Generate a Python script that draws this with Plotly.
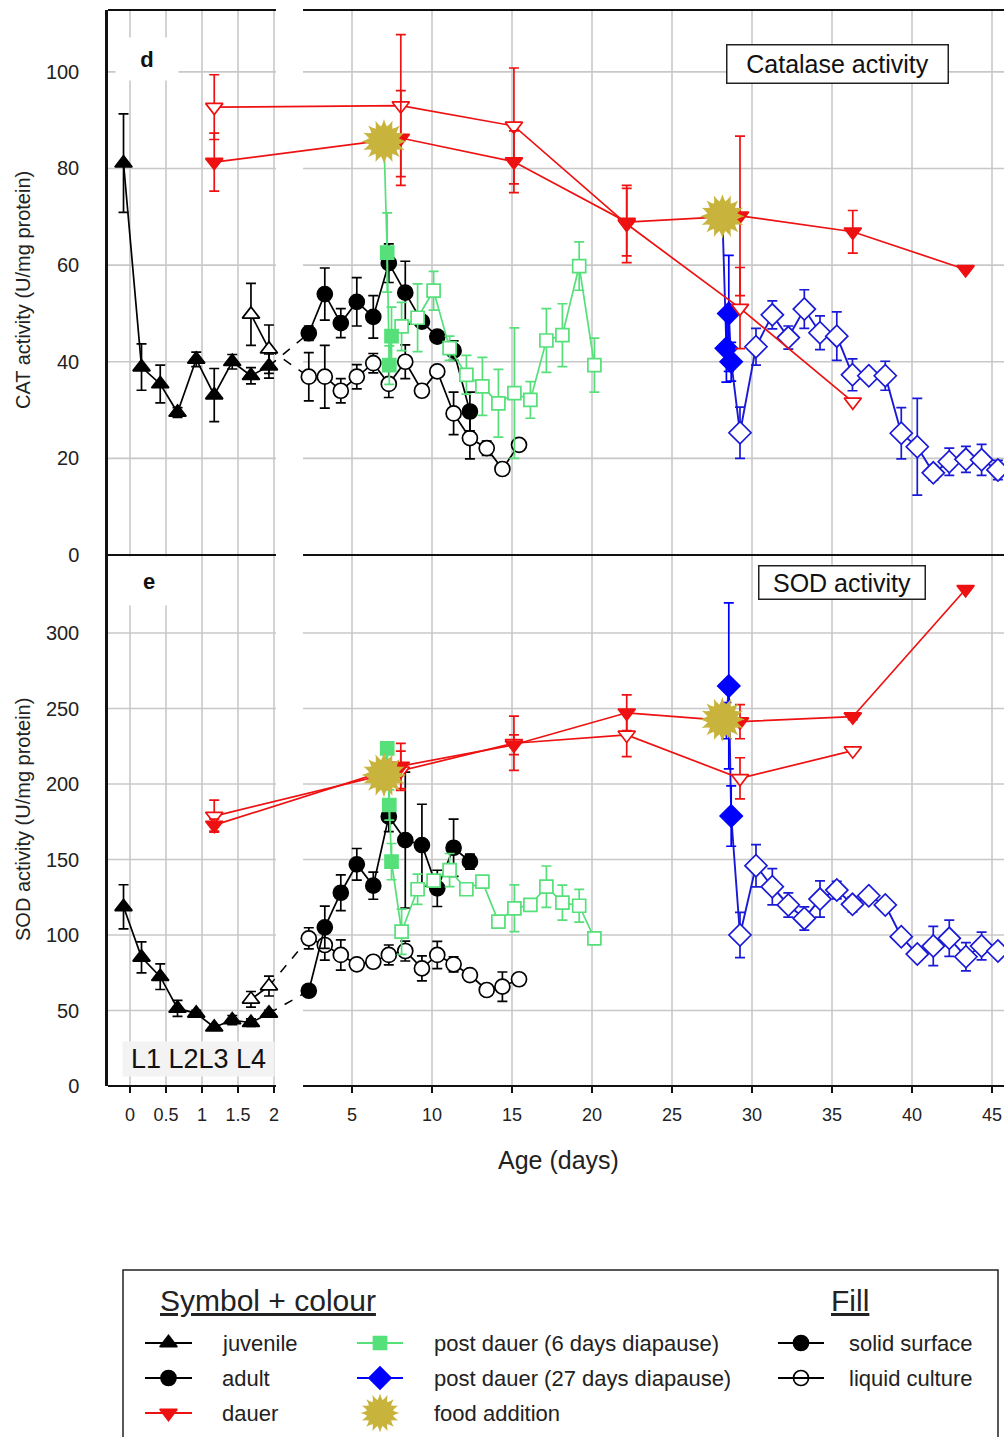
import plotly.graph_objects as go

# ---------------- data (ages in days) ----------------
juv_day = [-0.09, 0.16, 0.42, 0.66, 0.92, 1.17, 1.42, 1.68, 1.93]
juv_solid_cat = [81.1, 38.9, 35.4, 29.5, 40.5, 33.1, 40.0, 37.1, 39.1]
juv_solid_cat_err = [10.2, 4.8, 3.9, 1.0, 1.5, 5.5, 1.5, 1.7, 2.5]
juv_solid_sod = [118.7, 85.2, 72.4, 51.4, 48.1, 38.9, 43.7, 41.9, 48.1]
juv_solid_sod_err = [14.6, 10.3, 8.5, 5.3, 2.0, 1.5, 3.0, 2.5, 2.0]

juv_liquid_day = [1.68, 1.93]
juv_liquid_cat = [49.8, 42.6]
juv_liquid_cat_err = [6.4, 5.0]
juv_liquid_sod = [57.4, 66.2]
juv_liquid_sod_err = [5.2, 6.6]

adult_day = [2.3, 3.3, 4.3, 5.3, 6.33, 7.3, 8.33, 9.37, 10.33, 11.35, 12.37, 13.42, 14.4, 15.44]
adult_solid_cat = [45.9, 54.0, 48.0, 52.4, 49.3, 60.4, 54.3, 48.3, 45.2, 42.3, 29.7]
adult_solid_cat_err = [1.5, 5.4, 3.0, 5.0, 4.4, 4.0, 6.5, 1.0, 1.0, 2.0, 4.0]
adult_solid_sod = [63.1, 105.1, 128.0, 146.8, 132.7, 178.5, 162.9, 159.6, 130.9, 157.8, 148.6]
adult_solid_sod_err = [0, 14.0, 11.8, 10.5, 9.0, 10.0, 45.0, 27.0, 12.0, 19.0, 5.0]
adult_liquid_cat = [36.9, 36.9, 34.0, 36.9, 39.7, 35.4, 40.0, 34.0, 38.0, 29.3, 24.2, 22.1, 17.8, 22.8]
adult_liquid_cat_err = [5.0, 6.5, 2.5, 2.5, 2.0, 2.8, 3.5, 0, 0, 4.4, 4.3, 1.5, 0, 0]
adult_liquid_sod = [97.8, 93.4, 86.8, 80.6, 82.3, 86.8, 89.4, 77.9, 86.8, 80.6, 73.5, 63.6, 65.8, 70.7]
adult_liquid_sod_err = [7.0, 10.0, 10.0, 0, 2.0, 6.6, 6.6, 8.3, 9.0, 5.0, 0, 0, 9.7, 0]

dauer_day = [1.17, 8.05, 15.12, 22.17, 29.25, 36.3, 43.35]
dauer_solid_cat = [81.3, 86.3, 81.4, 68.9, 70.2, 66.9, 59.1]
dauer_solid_cat_err = [6.0, 9.8, 6.4, 7.0, 16.5, 4.4, 0]
dauer_liquid_cat = [92.7, 93.0, 88.8, 68.5, 51.1, 31.7]
dauer_liquid_cat_err = [6.7, 14.7, 12.0, 8.0, 8.4, 0]
dauer_solid_sod = [172.8, 211.9, 226.0, 247.2, 241.3, 244.6, 329.0]
dauer_solid_sod_err = [4.0, 15.0, 6.5, 11.8, 11.3, 2.0, 0]
dauer_liquid_sod = [178.8, 208.8, 227.0, 232.5, 203.8, 222.1]
dauer_liquid_sod_err = [10.6, 13.0, 18.0, 14.4, 13.6, 0]

food_day = [7.0, 28.15]
food_cat = [85.6, 70.1]
food_sod = [206.0, 242.8]

pd6_solid_day = [7.2, 7.33, 7.47]
pd6_solid_cat = [62.6, 39.3, 45.3]
pd6_solid_cat_err = [8.2, 4.0, 6.0]
pd6_solid_sod = [223.6, 186.1, 148.6]
pd6_solid_sod_err = [0, 10.0, 12.0]
pd6_liquid_day = [8.1, 9.1, 10.1, 11.1, 12.15, 13.15, 14.15, 15.15, 16.15, 17.15, 18.15, 19.2, 20.15]
pd6_liquid_cat = [47.3, 49.1, 54.7, 42.8, 37.3, 34.9, 31.4, 33.5, 32.1, 44.4, 45.5, 59.8, 39.3]
pd6_liquid_cat_err = [5.0, 7.0, 4.0, 2.5, 4.0, 6.0, 7.0, 13.5, 3.8, 6.6, 6.5, 5.0, 5.6]
pd6_liquid_sod = [102.2, 130.3, 136.0, 143.0, 130.3, 135.3, 108.9, 117.7, 119.9, 132.0, 121.4, 119.4, 97.8]
pd6_liquid_sod_err = [15.0, 10.0, 3.0, 11.0, 0, 0, 3.0, 15.5, 0, 13.7, 11.6, 10.8, 0]

pd27_solid_day = [28.4, 28.55, 28.7]
pd27_solid_cat = [42.8, 50.0, 40.0]
pd27_solid_cat_err = [7.0, 12.0, 4.0]
pd27_solid_sod = [242.0, 265.0, 178.8]
pd27_solid_sod_err = [12.0, 55.0, 20.0]
pd27_liquid_day = [29.25, 30.25, 31.27, 32.27, 33.27, 34.25, 35.3, 36.28, 37.3, 38.33,
                   39.33, 40.33, 41.33, 42.33, 43.37, 44.35, 45.37]
pd27_liquid_cat = [25.3, 43.1, 49.7, 45.0, 50.9, 46.0, 45.3, 37.3, 37.1, 37.1,
                   25.2, 22.4, 17.0, 19.3, 19.8, 19.7, 17.6]
pd27_liquid_cat_err = [5.3, 3.8, 2.9, 2.4, 4.0, 3.5, 5.0, 3.3, 0, 3.0,
                       5.3, 10.0, 1.5, 2.8, 2.7, 3.2, 2.0]
pd27_liquid_sod = [100.0, 145.9, 132.0, 119.9, 111.0, 123.8, 129.8, 120.3, 126.0, 119.9,
                   98.9, 87.4, 92.7, 97.8, 85.6, 92.7, 89.4]
pd27_liquid_sod_err = [15.0, 14.0, 12.0, 8.0, 7.7, 12.0, 5.8, 5.0, 0, 3.0,
                       3.0, 0, 13.0, 12.0, 9.3, 9.2, 3.0]

x_ticks_left = [0, 0.5, 1, 1.5, 2]
x_ticks_right = [5, 10, 15, 20, 25, 30, 35, 40, 45]
cat_ticks = [0, 20, 40, 60, 80, 100]
sod_ticks = [0, 50, 100, 150, 200, 250, 300]

# ---------------- styles ----------------
FONT = "Liberation Sans, Arial, sans-serif"
BLACK = "#000000"
RED = "#ee1111"
GREEN = "#55e07a"
BLUE = "#1a1ad6"
BLUE_F = "#0000ff"
GOLD = "#c8b43c"
GRID = "#c8c8c8"

W, H = 1004, 1437
PL = 108
TOP_PIX, MID_PIX, BOT_PIX = 10, 555, 1086

# Broken x-axis: day -> axis units (right segment: 1 unit = 1 day; left segment expanded 4.5x)
def to_u(d):
    return d if d > 2.1 else -8.875 + 4.5 * d

def U(days):
    return [to_u(d) for d in days]

GAP_L, GAP_R = 0.25, 1.94
X_RANGE = [-10.25, 45.75]
SEGMENTS = ((X_RANGE[0], GAP_L), (GAP_R, X_RANGE[1]))

fig = go.Figure()

AX = {"top": dict(xaxis="x", yaxis="y"), "bot": dict(xaxis="x2", yaxis="y2")}


def add_series(days, vals, errs, symbol, color, fill, size, panel, mode="lines+markers",
               dash="solid", lw=1.7, mlw=1.7):
    kw = dict(x=U(days), y=vals, mode=mode,
              line=dict(color=color, width=lw, dash=dash),
              marker=dict(symbol=symbol, size=size, color=fill, line=dict(color=color, width=mlw)),
              showlegend=False, hoverinfo="skip", cliponaxis=False, **AX[panel])
    if errs is not None:
        kw["error_y"] = dict(type="data", array=errs, visible=True, color=color, thickness=1.7, width=5)
    fig.add_trace(go.Scatter(**kw))


def add_line(days, vals, color, panel, dash="solid", lw=1.7):
    fig.add_trace(go.Scatter(x=U(days), y=vals, mode="lines", line=dict(color=color, width=lw, dash=dash),
                             showlegend=False, hoverinfo="skip", cliponaxis=False, **AX[panel]))


def add_star(days, vals, panel, size=32):
    for ang in (0, 22.5, 45, 67.5):
        fig.add_trace(go.Scatter(x=U(days), y=vals, mode="markers",
                                 marker=dict(symbol="star-diamond", size=size, color=GOLD, angle=ang,
                                             line=dict(width=0)),
                                 showlegend=False, hoverinfo="skip", cliponaxis=False, **AX[panel]))


def panel_traces(panel, juv_s, juv_s_e, juv_l, juv_l_e, ad_s, ad_s_e, ad_l, ad_l_e,
                 da_s, da_s_e, da_l, da_l_e, fo, p6s, p6s_e, p6l, p6l_e, p27s, p27s_e, p27l, p27l_e):
    n_s = len(ad_s)
    add_line([juv_day[-1], adult_day[0]], [juv_s[-1], ad_s[0]], BLACK, panel, dash="dash", lw=1.5)
    add_line([juv_liquid_day[-1], adult_day[0]], [juv_l[-1], ad_l[0]], BLACK, panel, dash="dash", lw=1.5)
    add_series(juv_day, juv_s, juv_s_e, "triangle-up", BLACK, BLACK, 15, panel)
    add_series(juv_liquid_day, juv_l, juv_l_e, "triangle-up", BLACK, "white", 15, panel)
    add_series(adult_day, ad_l, ad_l_e, "circle", BLACK, "white", 15, panel)
    add_series(adult_day[:n_s], ad_s, ad_s_e, "circle", BLACK, BLACK, 15, panel)
    add_line([food_day[0]] + pd6_solid_day + pd6_liquid_day, [fo[0]] + p6s + p6l, GREEN, panel)
    add_series(pd6_liquid_day, p6l, p6l_e, "square", GREEN, "white", 13, panel, mode="markers")
    add_series(pd6_solid_day, p6s, p6s_e, "square", GREEN, GREEN, 13, panel, mode="markers")
    add_line([food_day[1]] + pd27_solid_day + pd27_liquid_day, [fo[1]] + p27s + p27l, BLUE, panel, lw=1.9)
    add_series(pd27_liquid_day, p27l, p27l_e, "diamond", BLUE, "white", 17, panel, mode="markers")
    add_series(pd27_solid_day, p27s, p27s_e, "diamond", BLUE_F, BLUE_F, 17, panel, mode="markers")
    add_series(dauer_day[:len(da_l)], da_l, da_l_e, "triangle-down", RED, "white", 15, panel)
    add_series(dauer_day, da_s, da_s_e, "triangle-down", RED, RED, 15, panel)
    add_star(food_day, fo, panel)


panel_traces("top", juv_solid_cat, juv_solid_cat_err, juv_liquid_cat, juv_liquid_cat_err,
             adult_solid_cat, adult_solid_cat_err, adult_liquid_cat, adult_liquid_cat_err,
             dauer_solid_cat, dauer_solid_cat_err, dauer_liquid_cat, dauer_liquid_cat_err, food_cat,
             pd6_solid_cat, pd6_solid_cat_err, pd6_liquid_cat, pd6_liquid_cat_err,
             pd27_solid_cat, pd27_solid_cat_err, pd27_liquid_cat, pd27_liquid_cat_err)
panel_traces("bot", juv_solid_sod, juv_solid_sod_err, juv_liquid_sod, juv_liquid_sod_err,
             adult_solid_sod, adult_solid_sod_err, adult_liquid_sod, adult_liquid_sod_err,
             dauer_solid_sod, dauer_solid_sod_err, dauer_liquid_sod, dauer_liquid_sod_err, food_sod,
             pd6_solid_sod, pd6_solid_sod_err, pd6_liquid_sod, pd6_liquid_sod_err,
             pd27_solid_sod, pd27_solid_sod_err, pd27_liquid_sod, pd27_liquid_sod_err)

shapes = []
annotations = []

# ---------------- gridlines of the broken axis (from the tick arrays) ----------------
tickvals = U(x_ticks_left) + x_ticks_right
ticktext = [str(t) for t in x_ticks_left] + [str(t) for t in x_ticks_right]
for xr, yr in (("x", "y domain"), ("x2", "y2 domain")):
    for tv in tickvals:
        shapes.append(dict(type="line", xref=xr, yref=yr, x0=tv, x1=tv, y0=0, y1=1,
                           line=dict(color=GRID, width=1.6), layer="below"))
for xr, yr, ticks in (("x", "y", cat_ticks), ("x2", "y2", sod_ticks)):
    for tv in ticks[1:]:
        for seg in SEGMENTS:
            shapes.append(dict(type="line", xref=xr, yref=yr, x0=seg[0], x1=seg[1], y0=tv, y1=tv,
                               line=dict(color=GRID, width=1.6), layer="below"))

# frame lines with the gap
for seg in SEGMENTS:
    for xr, yr, yv in (("x", "y domain", 1), ("x", "y domain", 0), ("x2", "y2 domain", 0)):
        shapes.append(dict(type="line", xref=xr, yref=yr, x0=seg[0], x1=seg[1], y0=yv, y1=yv,
                           line=dict(color="#111", width=2), layer="above"))

# ---------------- legend glyphs (pixel overlay axis x3/y3) ----------------
leg_rows = [1343, 1378, 1413]
leg_cols = [(145, 192, 220), (357, 403, 432), (778, 824, 847)]
legend_items = [
    (0, 0, "juvenile", "triangle-up", BLACK, BLACK, True),
    (0, 1, "adult", "circle", BLACK, BLACK, True),
    (0, 2, "dauer", "triangle-down", RED, RED, True),
    (1, 0, "post dauer (6 days diapause)", "square", GREEN, GREEN, True),
    (1, 1, "post dauer (27 days diapause)", "diamond", BLUE_F, BLUE_F, True),
    (1, 2, "food addition", "star", GOLD, GOLD, False),
    (2, 0, "solid surface", "circle", BLACK, BLACK, True),
    (2, 1, "liquid culture", "circle", BLACK, "white", True),
]

for col, row, label, sym, col_c, fill, has_line in legend_items:
    x0, x1, xt = leg_cols[col]
    y = leg_rows[row]
    xm = (x0 + x1) / 2
    if has_line:
        shapes.append(dict(type="line", xref="x3", yref="y3", x0=x0, x1=x1, y0=y, y1=y,
                           line=dict(color=col_c, width=2), layer="above"))
    if sym == "star":
        for ang in (0, 22.5, 45, 67.5):
            fig.add_trace(go.Scatter(x=[xm], y=[y], mode="markers", xaxis="x3", yaxis="y3",
                                     marker=dict(symbol="star-diamond", size=28, color=GOLD, angle=ang,
                                                 line=dict(width=0)),
                                     showlegend=False, hoverinfo="skip", cliponaxis=False))
    else:
        sz = {"square": 13, "diamond": 17}.get(sym, 15)
        fig.add_trace(go.Scatter(x=[xm], y=[y], mode="markers", xaxis="x3", yaxis="y3",
                                 marker=dict(symbol=sym, size=sz, color=fill, line=dict(color=col_c, width=1.7)),
                                 showlegend=False, hoverinfo="skip", cliponaxis=False))
    annotations.append(dict(xref="x3", yref="y3", x=xt, y=y, text=label, showarrow=False,
                            xanchor="left", yanchor="middle", font=dict(family=FONT, size=22, color="#222")))

annotations.append(dict(xref="x3", yref="y3", x=158, y=1300, text="Symbol + colour", showarrow=False,
                        xanchor="left", yanchor="middle",
                        font=dict(family=FONT, size=30, color="#222", lineposition="under")))
annotations.append(dict(xref="x3", yref="y3", x=829, y=1300, text="Fill", showarrow=False,
                        xanchor="left", yanchor="middle",
                        font=dict(family=FONT, size=30, color="#222", lineposition="under")))
shapes.append(dict(type="rect", xref="x3", yref="y3", x0=123, x1=998, y0=1270, y1=1445,
                   line=dict(color="#222", width=1.5), fillcolor="rgba(0,0,0,0)", layer="above"))

# ---------------- text labels ----------------
annotations += [
    dict(xref="x3", yref="y3", x=147, y=59, text="<b>d</b>", showarrow=False, width=60, height=40,
         bgcolor="white", font=dict(family=FONT, size=22, color="#111")),
    dict(xref="x3", yref="y3", x=149, y=581, text="<b>e</b>", showarrow=False, width=62, height=46,
         bgcolor="white", font=dict(family=FONT, size=22, color="#111")),
    dict(xref="x3", yref="y3", x=198.5, y=1059, text="L1 L2L3 L4", showarrow=False, width=149, height=32,
         bgcolor="#f3f3f3", font=dict(family=FONT, size=27, color="#111")),
    dict(xref="x3", yref="y3", x=837, y=63.5, text="Catalase activity", showarrow=False, width=220, height=37,
         bgcolor="white", bordercolor="#222", borderwidth=1.5, borderpad=0,
         font=dict(family=FONT, size=25, color="#111")),
    dict(xref="x3", yref="y3", x=841.5, y=582, text="SOD activity", showarrow=False, width=165, height=32,
         bgcolor="white", bordercolor="#222", borderwidth=1.5, borderpad=0,
         font=dict(family=FONT, size=25, color="#111")),
    dict(xref="x3", yref="y3", x=23, y=290, text="CAT activity (U/mg protein)", showarrow=False,
         textangle=-90, font=dict(family=FONT, size=20, color="#222")),
    dict(xref="x3", yref="y3", x=23, y=820, text="SOD activity (U/mg protein)", showarrow=False,
         textangle=-90, font=dict(family=FONT, size=20, color="#222")),
    dict(xref="x3", yref="y3", x=558, y=1160, text="Age (days)", showarrow=False,
         font=dict(family=FONT, size=25, color="#222")),
]

xdom = [PL / W, 1]
ytop_dom = [(H - MID_PIX) / H, (H - TOP_PIX) / H]
ybot_dom = [(H - BOT_PIX) / H, (H - MID_PIX) / H]

common_x = dict(range=X_RANGE, domain=xdom, tickmode="array", tickvals=tickvals, ticktext=ticktext,
                showgrid=False, zeroline=False, showline=False, automargin=False, fixedrange=True)
common_y = dict(showgrid=False, zeroline=False, showline=True,
                linecolor="#111", linewidth=2.5, ticks="", ticklabelstandoff=22, automargin=False,
                tickfont=dict(family=FONT, size=20, color="#222"), fixedrange=True)

fig.update_layout(
    width=W, height=H,
    margin=dict(l=0, r=0, t=0, b=0),
    paper_bgcolor="white", plot_bgcolor="rgba(0,0,0,0)",
    showlegend=False, hovermode=False,
    xaxis=dict(anchor="y", showticklabels=False, ticks="", **common_x),
    xaxis2=dict(anchor="y2", showticklabels=True, ticks="outside", ticklen=6, tickwidth=1.6,
                tickcolor="#111", ticklabelstandoff=6,
                tickfont=dict(family=FONT, size=18, color="#222"), **common_x),
    yaxis=dict(anchor="x", domain=ytop_dom, range=[0, 112.8], tickvals=cat_ticks, **common_y),
    yaxis2=dict(anchor="x2", domain=ybot_dom, range=[0, 351.7], tickvals=sod_ticks, **common_y),
    xaxis3=dict(anchor="y3", domain=[0, 1], range=[0, W], visible=False, fixedrange=True),
    yaxis3=dict(anchor="x3", domain=[0, 1], range=[H, 0], visible=False, fixedrange=True),
    shapes=shapes,
    annotations=annotations,
)

fig.write_html("out.html")
